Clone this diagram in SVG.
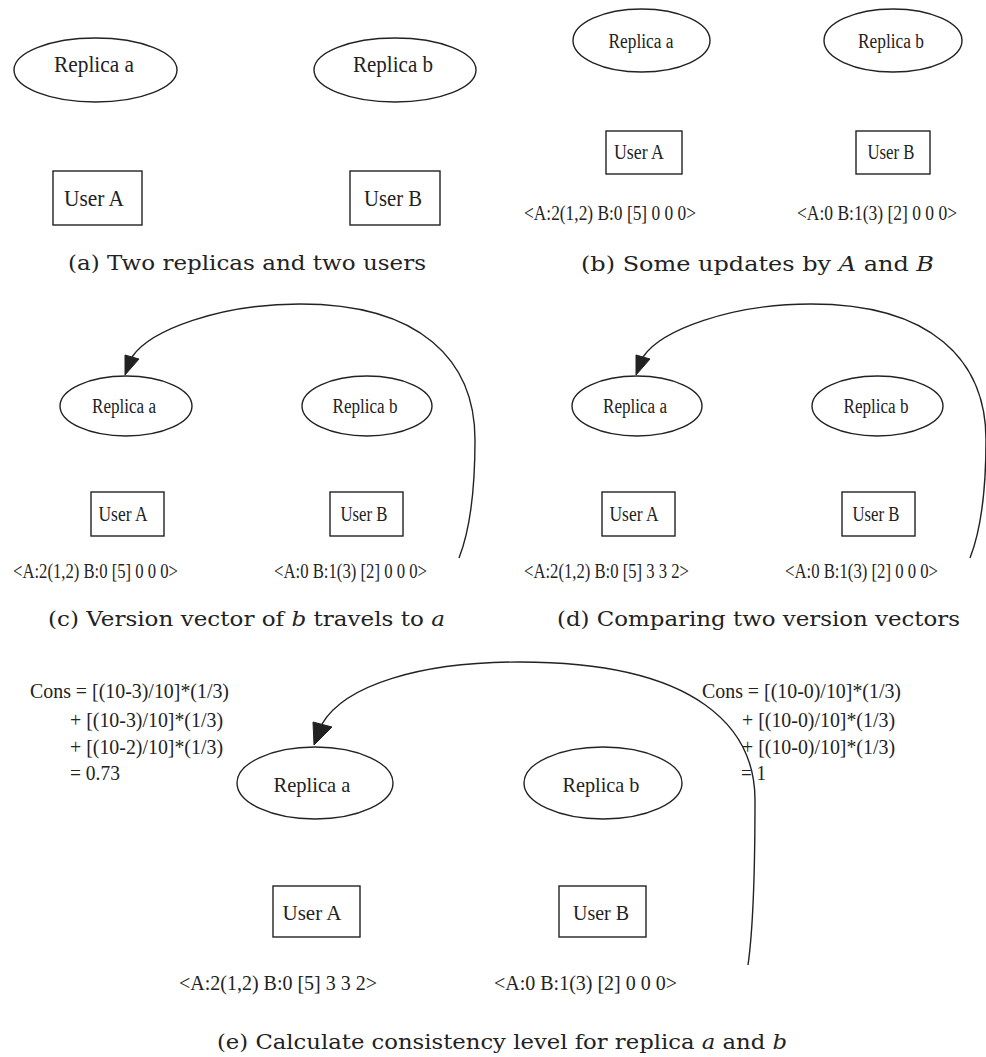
<svg xmlns="http://www.w3.org/2000/svg" width="986" height="1057" viewBox="0 0 986 1057">
<style>
.n{fill:none;stroke:#222;stroke-width:1.4}
.t{font-family:"Liberation Serif","Times New Roman",serif;fill:#222}
.m{text-anchor:middle}
.cap{font-family:"DejaVu Serif","Liberation Serif",serif;fill:#222;font-size:21px}
.e{fill:none;stroke:#222;stroke-width:1.4}
.ah{fill:#222;stroke:#222;stroke-width:1}
</style>
<rect width="986" height="1057" fill="#fff"/>

<!-- Panel (a) -->
<g id="a_replica_a"><ellipse class="n" cx="95.5" cy="70" rx="81.5" ry="32"/><text class="t m" x="94" y="72" font-size="23" textLength="80" lengthAdjust="spacingAndGlyphs">Replica a</text></g>
<g id="a_replica_b"><ellipse class="n" cx="395" cy="70" rx="81" ry="32"/><text class="t m" x="393" y="72" font-size="23" textLength="80" lengthAdjust="spacingAndGlyphs">Replica b</text></g>
<g id="a_user_a"><rect class="n" x="53" y="171" width="89" height="54"/><text class="t m" x="94" y="206" font-size="23" textLength="60" lengthAdjust="spacingAndGlyphs">User A</text></g>
<g id="a_user_b"><rect class="n" x="350" y="171" width="90" height="54"/><text class="t m" x="393" y="206" font-size="23" textLength="58" lengthAdjust="spacingAndGlyphs">User B</text></g>
<text class="cap" x="68" y="270" textLength="358" lengthAdjust="spacingAndGlyphs">(a) Two replicas and two users</text>

<!-- Panel (b) -->
<g id="b_replica_a"><ellipse class="n" cx="641.5" cy="40.5" rx="68.5" ry="31.5"/><text class="t m" x="641" y="48" font-size="20" textLength="65" lengthAdjust="spacingAndGlyphs">Replica a</text></g>
<g id="b_replica_b"><ellipse class="n" cx="893" cy="40.5" rx="69" ry="31.5"/><text class="t m" x="891" y="48" font-size="20" textLength="66" lengthAdjust="spacingAndGlyphs">Replica b</text></g>
<g id="b_user_a"><rect class="n" x="606" y="131" width="76" height="43"/><text class="t m" x="639" y="159" font-size="20" textLength="50" lengthAdjust="spacingAndGlyphs">User A</text></g>
<g id="b_user_b"><rect class="n" x="856" y="131" width="74" height="43"/><text class="t m" x="891" y="159" font-size="20" textLength="47" lengthAdjust="spacingAndGlyphs">User B</text></g>
<g id="b_vec_a"><text class="t" x="524" y="220" font-size="20" textLength="172" lengthAdjust="spacingAndGlyphs">&lt;A:2(1,2) B:0 [5] 0 0 0&gt;</text></g>
<g id="b_vec_b"><text class="t" x="797" y="220" font-size="20" textLength="160" lengthAdjust="spacingAndGlyphs">&lt;A:0 B:1(3) [2] 0 0 0&gt;</text></g>
<text class="cap" x="581" y="271" textLength="353" lengthAdjust="spacingAndGlyphs">(b) Some updates by <tspan font-style="italic">A</tspan> and <tspan font-style="italic">B</tspan></text>

<!-- Panel (c) -->
<g id="c_replica_a"><ellipse class="n" cx="126" cy="406" rx="66" ry="30"/><text class="t m" x="124" y="413" font-size="20" textLength="64" lengthAdjust="spacingAndGlyphs">Replica a</text></g>
<g id="c_replica_b"><ellipse class="n" cx="367" cy="406" rx="65" ry="30"/><text class="t m" x="365" y="413" font-size="20" textLength="65" lengthAdjust="spacingAndGlyphs">Replica b</text></g>
<g id="c_user_a"><rect class="n" x="91" y="492" width="73" height="44"/><text class="t m" x="123" y="521" font-size="20" textLength="49" lengthAdjust="spacingAndGlyphs">User A</text></g>
<g id="c_user_b"><rect class="n" x="330" y="492" width="73" height="44"/><text class="t m" x="364" y="521" font-size="20" textLength="47" lengthAdjust="spacingAndGlyphs">User B</text></g>
<g id="c_vec_a"><text class="t" x="13" y="578" font-size="20" textLength="165" lengthAdjust="spacingAndGlyphs">&lt;A:2(1,2) B:0 [5] 0 0 0&gt;</text></g>
<g id="c_vec_b"><text class="t" x="274" y="578" font-size="20" textLength="153" lengthAdjust="spacingAndGlyphs">&lt;A:0 B:1(3) [2] 0 0 0&gt;</text></g>
<text class="cap" x="48" y="626" textLength="397" lengthAdjust="spacingAndGlyphs">(c) Version vector of <tspan font-style="italic">b</tspan> travels to <tspan font-style="italic">a</tspan></text>

<!-- Panel (d) -->
<g id="d_replica_a"><ellipse class="n" cx="637" cy="406" rx="65" ry="30"/><text class="t m" x="635" y="413" font-size="20" textLength="64" lengthAdjust="spacingAndGlyphs">Replica a</text></g>
<g id="d_replica_b"><ellipse class="n" cx="877.5" cy="406" rx="65.5" ry="30"/><text class="t m" x="876" y="413" font-size="20" textLength="65" lengthAdjust="spacingAndGlyphs">Replica b</text></g>
<g id="d_user_a"><rect class="n" x="602" y="492" width="73" height="44"/><text class="t m" x="634" y="521" font-size="20" textLength="49" lengthAdjust="spacingAndGlyphs">User A</text></g>
<g id="d_user_b"><rect class="n" x="842" y="492" width="73" height="44"/><text class="t m" x="876" y="521" font-size="20" textLength="47" lengthAdjust="spacingAndGlyphs">User B</text></g>
<g id="d_vec_a"><text class="t" x="524" y="578" font-size="20" textLength="165" lengthAdjust="spacingAndGlyphs">&lt;A:2(1,2) B:0 [5] 3 3 2&gt;</text></g>
<g id="d_vec_b"><text class="t" x="785" y="578" font-size="20" textLength="153" lengthAdjust="spacingAndGlyphs">&lt;A:0 B:1(3) [2] 0 0 0&gt;</text></g>
<text class="cap" x="557" y="626" textLength="403" lengthAdjust="spacingAndGlyphs">(d) Comparing two version vectors</text>

<!-- Panel (e) -->
<g id="e_replica_a"><ellipse class="n" cx="315" cy="783" rx="78" ry="36"/><text class="t m" x="312" y="792" font-size="22" textLength="77" lengthAdjust="spacingAndGlyphs">Replica a</text></g>
<g id="e_replica_b"><ellipse class="n" cx="603" cy="783" rx="79" ry="36"/><text class="t m" x="601" y="792" font-size="22" textLength="77" lengthAdjust="spacingAndGlyphs">Replica b</text></g>
<g id="e_user_a"><rect class="n" x="273" y="886" width="87" height="51"/><text class="t m" x="312" y="920" font-size="22" textLength="59" lengthAdjust="spacingAndGlyphs">User A</text></g>
<g id="e_user_b"><rect class="n" x="559" y="886" width="87" height="51"/><text class="t m" x="601" y="920" font-size="22" textLength="56" lengthAdjust="spacingAndGlyphs">User B</text></g>
<g id="e_vec_a"><text class="t" x="179" y="990" font-size="22" textLength="198" lengthAdjust="spacingAndGlyphs">&lt;A:2(1,2) B:0 [5] 3 3 2&gt;</text></g>
<g id="e_vec_b"><text class="t" x="494" y="990" font-size="22" textLength="183" lengthAdjust="spacingAndGlyphs">&lt;A:0 B:1(3) [2] 0 0 0&gt;</text></g>
<g id="e_cons_a" class="t" font-size="22">
<text x="30" y="698" textLength="199" lengthAdjust="spacingAndGlyphs">Cons = [(10-3)/10]*(1/3)</text>
<text x="70" y="727" textLength="153" lengthAdjust="spacingAndGlyphs">+ [(10-3)/10]*(1/3)</text>
<text x="70" y="754" textLength="153" lengthAdjust="spacingAndGlyphs">+ [(10-2)/10]*(1/3)</text>
<text x="70" y="780" textLength="50" lengthAdjust="spacingAndGlyphs">= 0.73</text>
</g>
<g id="e_cons_b" class="t" font-size="22">
<text x="702" y="698" textLength="199" lengthAdjust="spacingAndGlyphs">Cons = [(10-0)/10]*(1/3)</text>
<text x="742" y="727" textLength="153" lengthAdjust="spacingAndGlyphs">+ [(10-0)/10]*(1/3)</text>
<text x="742" y="754" textLength="153" lengthAdjust="spacingAndGlyphs">+ [(10-0)/10]*(1/3)</text>
<text x="741" y="780" textLength="25" lengthAdjust="spacingAndGlyphs">= 1</text>
</g>
<text class="cap" x="217" y="1049" textLength="570" lengthAdjust="spacingAndGlyphs">(e) Calculate consistency level for replica <tspan font-style="italic">a</tspan> and <tspan font-style="italic">b</tspan></text>

<!-- Connectors -->
<g id="connectors">
<path class="e" d="M459,558 C470,530 475,490 475,440 C475,360 420,304 300,304 C220,304 150,330 132,357"/>
<polygon class="ah" points="125,375 125,355 139,359"/>
<path class="e" d="M970,558 C981,530 986,490 986,440 C986,360 931,304 811,304 C731,304 661,330 643,357"/>
<polygon class="ah" points="636,375 636,355 650,359"/>
<path class="e" d="M748,965 C753,930 755,860 755,800 C755,730 700,662 520,662 C420,662 345,685 322,724"/>
<polygon class="ah" points="314,745 313,722 332,727"/>
</g>
</svg>
